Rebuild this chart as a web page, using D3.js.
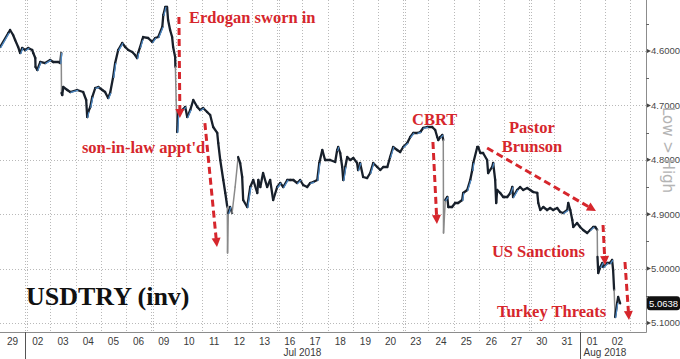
<!DOCTYPE html>
<html><head><meta charset="utf-8">
<script src="https://cdn.jsdelivr.net/npm/d3@7/dist/d3.min.js"></script>
<style>html,body{margin:0;padding:0;background:#fff;}svg{display:block;}</style>
</head><body>
<svg id="chart" width="680" height="359"></svg>
<script>
// ---- data ----
const dayLabels = ["29","02","03","04","05","06","09","10","11","12","13","16","17","18","19","20","23","24","25","26","27","30","31","01","02"];
const weekStarts = [1,6,11,16,21];
const monthStarts = [{t:1,label:"Jul 2018"},{t:23,label:"Aug 2018"}];
const yTicks = [4.6,4.7,4.8,4.9,5.0,5.1];
const yMinorTicks = [4.55,4.65,4.75,4.85,4.95,5.05];
const lastPrice = 5.0638;
// trading-day position (0 = 29 Jun open) and USDTRY value
const seriesT = [0.01,0.33,0.40,0.52,0.60,0.72,0.80,0.88,1.00,1.12,1.28,1.32,1.40,1.41,1.48,1.60,1.79,1.99,2.11,2.31,2.39,2.43,2.44,2.47,2.51,2.67,2.79,3.06,3.30,3.42,3.46,3.50,3.58,3.66,3.78,3.90,4.06,4.17,4.29,4.37,4.49,4.57,4.69,4.85,4.97,5.09,5.25,5.36,5.44,5.48,5.56,5.64,5.68,5.88,6.04,6.16,6.28,6.44,6.48,6.56,6.63,6.67,6.75,6.83,6.87,6.95,6.96,6.99,7.03,7.07,7.23,7.35,7.43,7.55,7.67,7.83,7.94,8.06,8.22,8.34,8.46,8.62,8.66,8.74,8.86,8.94,9.02,9.03,9.06,9.13,9.21,9.33,9.45,9.53,9.61,9.65,9.81,9.93,10.05,10.21,10.25,10.33,10.44,10.60,10.72,10.84,11.00,11.12,11.24,11.40,11.52,11.64,11.79,11.91,12.03,12.19,12.31,12.43,12.59,12.67,12.79,12.90,13.10,13.30,13.38,13.42,13.50,13.58,13.62,13.70,13.78,13.90,14.02,14.17,14.21,14.29,14.41,14.57,14.69,14.81,14.97,15.09,15.21,15.37,15.48,15.60,15.76,15.88,16.00,16.16,16.28,16.40,16.56,16.68,16.79,16.95,17.15,17.27,17.35,17.39,17.47,17.55,17.59,17.60,17.67,17.75,17.79,17.94,18.06,18.18,18.34,18.38,18.54,18.66,18.74,18.78,18.94,18.98,19.06,19.17,19.33,19.37,19.53,19.57,19.65,19.69,19.73,19.85,19.97,20.13,20.25,20.33,20.36,20.52,20.64,20.76,20.92,21.04,21.16,21.32,21.36,21.44,21.56,21.71,21.83,21.95,22.11,22.23,22.35,22.51,22.55,22.63,22.71,22.75,22.90,23.02,23.14,23.30,23.42,23.54,23.62,23.70,23.71,23.74,23.82,23.90,23.94,24.10,24.21,24.29,24.33,24.37,24.41,24.49,24.53,24.61];
const seriesV = [4.5926,4.5669,4.5614,4.5706,4.5798,4.5926,4.6037,4.5945,4.5982,4.5945,4.5982,4.6037,4.6129,4.6294,4.6349,4.6202,4.6221,4.6165,4.6202,4.6202,4.6221,4.6037,4.6772,4.6809,4.6662,4.6717,4.6754,4.6717,4.6754,4.6901,4.7213,4.7121,4.7029,4.6846,4.6680,4.6662,4.6717,4.6754,4.6864,4.6772,4.6478,4.6221,4.5982,4.5853,4.5926,4.5982,4.6018,4.6074,4.6129,4.6037,4.5926,4.5798,4.5743,4.5761,4.5835,4.5761,4.5743,4.5559,4.5338,4.5191,4.5191,4.5430,4.5614,4.5743,4.5926,4.6110,4.6294,4.6901,4.7489,4.7140,4.7085,4.7029,4.7213,4.7085,4.6901,4.7029,4.7085,4.7048,4.7121,4.7176,4.7397,4.7507,4.7691,4.8004,4.8371,4.8610,4.8868,4.9713,4.8978,4.8868,4.8978,4.8500,4.7949,4.8059,4.8316,4.8739,4.8868,4.8500,4.8371,4.8610,4.8371,4.8500,4.8243,4.8500,4.8371,4.8739,4.8500,4.8426,4.8500,4.8371,4.8371,4.8371,4.8426,4.8371,4.8463,4.8500,4.8426,4.8408,4.8371,4.8059,4.7820,4.8004,4.8004,4.8040,4.7820,4.7765,4.7875,4.8132,4.8371,4.8132,4.7949,4.8004,4.7967,4.8059,4.8188,4.8059,4.8316,4.8335,4.8243,4.8059,4.8132,4.8188,4.8132,4.8132,4.7949,4.7765,4.7820,4.7857,4.7765,4.7691,4.7581,4.7507,4.7507,4.7489,4.7415,4.7397,4.7397,4.7452,4.7581,4.7636,4.7581,4.7544,4.7636,4.9346,4.8739,4.8684,4.8868,4.8868,4.8794,4.8794,4.8739,4.8610,4.8555,4.8371,4.8188,4.8059,4.7765,4.7765,4.7875,4.7875,4.8004,4.8243,4.8132,4.8059,4.8371,4.8794,4.8555,4.8610,4.8684,4.8684,4.8610,4.8500,4.8684,4.8555,4.8500,4.8555,4.8518,4.8555,4.8592,4.8610,4.8794,4.8923,4.8868,4.8923,4.8886,4.8923,4.8886,4.8960,4.8978,4.8923,4.8794,4.8923,4.9107,4.9235,4.9162,4.9235,4.9290,4.9346,4.9290,4.9235,4.9235,4.9290,4.9787,5.0081,4.9971,4.9897,4.9971,4.9897,4.9897,4.9842,5.0026,5.0393,5.0890,5.0632,5.0522,5.0638];
// annotations (text position / arrow in data coordinates)
const annoTexts = [
  {text:"Erdogan sworn in", t:7.50, v:4.5485, anchor:"start"},
  {text:"son-in-law appt'd", t:3.25, v:4.7875, anchor:"start"},
  {text:"CBRT", t:16.35, v:4.7360, anchor:"start"},
  {text:"Pastor", t:20.20, v:4.7507, anchor:"start"},
  {text:"Brunson", t:21.11, v:4.7857, anchor:"middle"},
  {text:"US Sanctions", t:19.52, v:4.9787, anchor:"start"},
  {text:"Turkey Threats", t:19.72, v:5.0890, anchor:"start"}
];
const annoArrows = [
  {t0:7.10, v0:4.5375, t1:7.14, v1:4.7232},
  {t0:8.13, v0:4.7324, t1:8.61, v1:4.9603},
  {t0:17.18, v0:4.7673, t1:17.34, v1:4.9180},
  {t0:19.33, v0:4.7783, t1:23.65, v1:4.8941},
  {t0:23.93, v0:4.9199, t1:24.01, v1:4.9934},
  {t0:24.80, v0:4.9879, t1:24.96, v1:5.0945}
];

// ---- layout ----
const svg = d3.select("#chart");
const plotR = 646, plotB = 332;
const x = d3.scaleLinear().domain([0, 25.635]).range([0, plotR]);
const y = d3.scaleLinear().domain([4.6, 5.1]).range([51, 323]);
const red = "#d6262c";

svg.append("rect").attr("width",680).attr("height",359).attr("fill","#fff");

// grid
const grid = svg.append("g").attr("stroke","#b9b9b9").attr("stroke-width",1).attr("stroke-dasharray","1,2");
grid.selectAll("line.h").data(yTicks).join("line")
  .attr("x1",0).attr("x2",plotR).attr("y1",d=>Math.round(y(d))+0.5).attr("y2",d=>Math.round(y(d))+0.5);
const vlines = d3.range(1,26);
grid.selectAll("line.v").data(vlines).join("line")
  .attr("x1",d=>Math.round(x(d))+0.5).attr("x2",d=>Math.round(x(d))+0.5).attr("y1",0).attr("y2",plotB);
grid.selectAll("line.w").data(weekStarts).join("line")
  .attr("x1",d=>Math.round(x(d))+2.5).attr("x2",d=>Math.round(x(d))+2.5).attr("y1",0).attr("y2",plotB);

// series
const pts = seriesT.map((t,i)=>({t, v:seriesV[i]}));
const segs = d3.pairs(pts);
const big = d=>Math.abs(d[1].v-d[0].v)>0.045;
const lineG = svg.append("g").attr("fill","none").attr("stroke-linecap","round").attr("stroke-linejoin","round");
lineG.selectAll("line.base").data(segs).join("line")
  .attr("x1",d=>x(d[0].t)).attr("y1",d=>y(d[0].v)).attr("x2",d=>x(d[1].t)).attr("y2",d=>y(d[1].v))
  .attr("stroke",d=>big(d)?"#8a8a8a":"#18202b")
  .attr("stroke-width",d=>big(d)?1.5:2.3);
lineG.selectAll("line.blue").data(segs.filter((d,i)=>d[1].v<d[0].v && !big(d) && i%2===0)).join("line")
  .attr("x1",d=>x(d[0].t)+0.6).attr("y1",d=>y(d[0].v)+0.4).attr("x2",d=>x(d[1].t)+0.6).attr("y2",d=>y(d[1].v)+0.4)
  .attr("stroke","#4f8cc9").attr("stroke-width",1.2);

// axes lines
svg.append("line").attr("x1",0).attr("x2",plotR+0.5).attr("y1",plotB+0.5).attr("y2",plotB+0.5).attr("stroke","#8c8c8c");
svg.append("line").attr("x1",plotR+0.5).attr("x2",plotR+0.5).attr("y1",0).attr("y2",plotB+0.5).attr("stroke","#8c8c8c");

// right axis ticks
const ra = svg.append("g").attr("font-family","Liberation Sans, Arial, sans-serif").attr("font-size","9.5px").attr("fill","#4a4a4a");
ra.selectAll("path.maj").data(yTicks).join("path")
  .attr("d",d=>`M${plotR+1},${y(d)-2}L${plotR+5},${y(d)}L${plotR+1},${y(d)+2}Z`).attr("fill","#444");
ra.selectAll("line.min").data(yMinorTicks).join("line")
  .attr("x1",plotR).attr("x2",plotR+3).attr("y1",d=>Math.round(y(d))+0.5).attr("y2",d=>Math.round(y(d))+0.5).attr("stroke","#666");
ra.selectAll("text").data(yTicks).join("text")
  .attr("x",plotR+5).attr("y",d=>y(d)).attr("dy","0.35em").text(d=>d.toFixed(4));

// Low > High (tail clipped as in the source)
svg.append("clipPath").attr("id","lhclip")
  .append("rect").attr("x",655).attr("y",100).attr("width",25).attr("height",133);
svg.append("g").attr("clip-path","url(#lhclip)")
  .append("text")
  .attr("transform","translate(663,107) rotate(90)")
  .attr("font-family","DejaVu Sans, sans-serif").attr("font-size","15px").attr("fill","#b4b4b4")
  .text("Low > High");

// last price tag
const lp = y(lastPrice);
svg.append("rect").attr("x",647).attr("y",lp-7).attr("width",33).attr("height",14).attr("rx",3).attr("fill","#111");
svg.append("text").attr("x",649).attr("y",lp).attr("dy","0.35em")
  .attr("font-family","Liberation Sans, Arial, sans-serif").attr("font-size","9.5px").attr("fill","#fff").text(lastPrice.toFixed(4));

// bottom axis labels
const ba = svg.append("g").attr("font-family","Liberation Sans, Arial, sans-serif").attr("font-size","10px").attr("fill","#3a3a3a");
ba.selectAll("text.d").data(dayLabels).join("text")
  .attr("x",(d,i)=>x(i+0.5)).attr("y",345).attr("text-anchor","middle").text(d=>d);
svg.selectAll("line.m").data(monthStarts).join("line")
  .attr("x1",d=>Math.round(x(d.t))+0.5).attr("x2",d=>Math.round(x(d.t))+0.5).attr("y1",plotB).attr("y2",359)
  .attr("stroke","#555").attr("stroke-width",1);
ba.append("text").attr("x",x(12)).attr("y",356).attr("text-anchor","middle").text(monthStarts[0].label);
ba.append("text").attr("x",x(23)+4).attr("y",356).attr("text-anchor","start").text(monthStarts[1].label);

// title
svg.append("text").attr("x",26).attr("y",305)
  .attr("font-family","Liberation Serif, Times New Roman, serif").attr("font-weight","bold")
  .attr("font-size","26px").attr("fill","#111").text("USDTRY (inv)");

// annotations
const an = svg.append("g");
an.selectAll("text").data(annoTexts).join("text")
  .attr("x",d=>x(d.t)).attr("y",d=>y(d.v)).attr("text-anchor",d=>d.anchor)
  .attr("font-family","Liberation Serif, Times New Roman, serif").attr("font-weight","bold")
  .attr("font-size","16.5px").attr("fill",red).text(d=>d.text);
annoArrows.forEach(a=>{
  const x0=x(a.t0), y0=y(a.v0), x1=x(a.t1), y1=y(a.v1);
  const dx=x1-x0, dy=y1-y0, L=Math.hypot(dx,dy), ux=dx/L, uy=dy/L;
  const hl=9, hw=4.5;
  const bx=x1-ux*hl, by=y1-uy*hl;
  an.append("line").attr("x1",x0).attr("y1",y0).attr("x2",bx).attr("y2",by)
    .attr("stroke",red).attr("stroke-width",3).attr("stroke-dasharray","7,4");
  an.append("path").attr("d",`M${x1},${y1}L${bx-uy*hw},${by+ux*hw}L${bx+uy*hw},${by-ux*hw}Z`).attr("fill",red);
});
</script>
</body></html>
